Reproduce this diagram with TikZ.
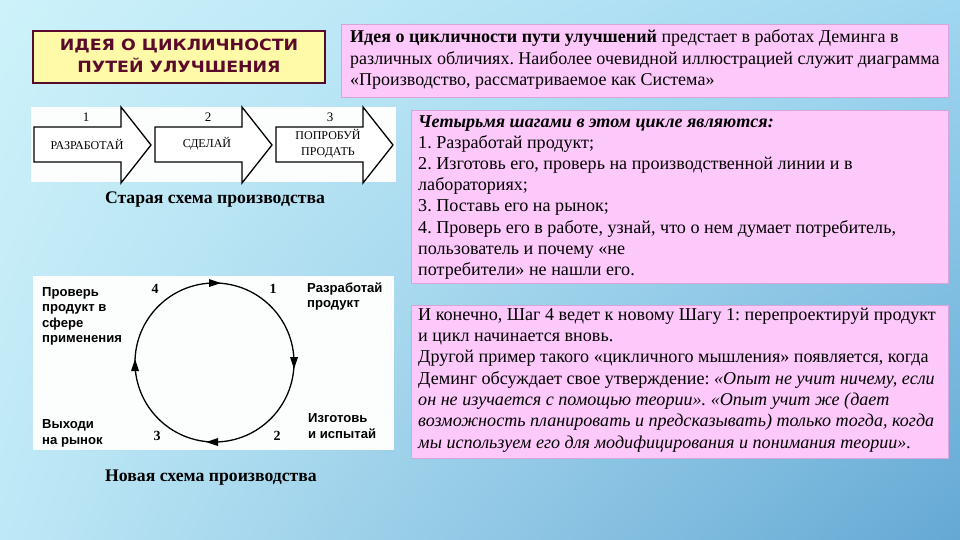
\documentclass[tikz,border=0pt]{standalone}
\usepackage{fontspec}
\usetikzlibrary{shadings}
\setmainfont{Liberation Serif}
\newfontfamily\sansb{Liberation Sans}
\newfontfamily\dejab[FakeStretch=1.12]{DejaVu Sans}
\definecolor{bgTL}{RGB}{205,242,250}
\definecolor{bgTR}{RGB}{160,215,240}
\definecolor{bgBL}{RGB}{190,232,246}
\definecolor{bgBR}{RGB}{100,168,212}
\definecolor{pinkfill}{RGB}{253,201,250}
\definecolor{pinkedge}{RGB}{215,165,215}
\definecolor{titlefill}{RGB}{255,250,168}
\definecolor{maroon}{RGB}{92,10,44}
\definecolor{panel}{RGB}{252,253,253}
\tikzset{
  pinkbox/.style={fill=pinkfill, draw=pinkedge, line width=0.8pt},
  panelbox/.style={fill=panel, draw=none},
  blockarrow/.style={fill=white, draw=black, line width=1.3pt, line join=miter},
  boxtext/.style={anchor=base west, align=left, inner sep=0pt, font=\fontsize{18.1}{21.4}\selectfont, text=black},
  numtext/.style={inner sep=0pt, font=\fontsize{13}{15}\selectfont},
  arrlabel/.style={inner sep=0pt, align=center, font=\fontsize{12}{16}\selectfont},
  cyclabel/.style={anchor=base west, align=left, inner sep=0pt, font=\sansb\bfseries\fontsize{13.1}{15.5}\selectfont},
  cycnum/.style={inner sep=0pt, font=\bfseries\fontsize{14}{16}\selectfont},
  caption/.style={inner sep=0pt, font=\bfseries\fontsize{17.7}{20}\selectfont},
  headtip/.style={fill=black, draw=none}
}
\begin{document}
\frenchspacing
\begin{tikzpicture}[x=1pt,y=-1pt]
\useasboundingbox (0,0) rectangle (960,540);
\shade[upper left=bgTL, upper right=bgTR, lower left=bgBL, lower right=bgBR] (0,0) rectangle (960,540);

% title
\draw[fill=titlefill, draw=maroon, line width=2.2pt] (33,31) rectangle (325,83);
\node (title) at (179,56) [align=center, inner sep=0pt, font=\dejab\bfseries\fontsize{15.5}{22}\selectfont, text=maroon] {ИДЕЯ О ЦИКЛИЧНОСТИ\\ПУТЕЙ УЛУЧШЕНИЯ};

% box 1 (anchor = baseline of last line)
\draw[pinkbox] (341,24) rectangle (948,97);
\node (t1) at (350,86) [boxtext, font=\fontsize{18}{21.5}\selectfont] {\textbf{Идея о цикличности пути улучшений} предстает в работах Деминга в\\различных обличиях. Наиболее очевидной иллюстрацией служит диаграмма\\«Производство, рассматриваемое как Система»};

% box 2
\draw[pinkbox] (411,110) rectangle (948,283);
\node (t2) at (418,275.4) [boxtext, font=\fontsize{18.1}{21.2}\selectfont] {\textbf{\textit{Четырьмя шагами в этом цикле являются:}}\\1. Разработай продукт;\\2. Изготовь его, проверь на производственной линии и в\\лабораториях;\\3. Поставь его на рынок;\\4. Проверь его в работе, узнай, что о нем думает потребитель,\\пользователь и почему «не\\потребители» не нашли его.};

% box 3
\draw[pinkbox] (411,305) rectangle (948,458);
\node (t3) at (418,448) [boxtext, font=\fontsize{18.1}{21.33}\selectfont] {И конечно, Шаг 4 ведет к новому Шагу 1: перепроектируй продукт\\и цикл начинается вновь.\\Другой пример такого «цикличного мышления» появляется, когда\\Деминг обсуждает свое утверждение: \textit{«Опыт не учит ничему, если}\\\textit{он не изучается с помощью теории». «Опыт учит же (дает}\\\textit{возможность планировать и предсказывать) только тогда, когда}\\\textit{мы используем его для модифицирования и понимания теории».}};

% old scheme
\fill[panelbox] (31,107) rectangle (396,182);
\foreach \L in {34,155,276}{
  \draw[blockarrow] (\L,127) -- ({\L+87},127) -- ({\L+87},107) -- ({\L+117},145) -- ({\L+87},183) -- ({\L+87},162) -- (\L,162) -- cycle;
}
\node (n1) at (86,117) [numtext] {1};
\node (n2) at (208,117) [numtext] {2};
\node (n3) at (330,117) [numtext] {3};
\node (l1) at (87,144) [arrlabel] {РАЗРАБОТАЙ};
\node (l2) at (207,144) [arrlabel] {СДЕЛАЙ};
\node (l3) at (328,144) [arrlabel] {ПОПРОБУЙ\\ПРОДАТЬ};
\node (old) at (215,200) [caption] {Старая схема производства};

% new scheme
\fill[panelbox] (33,276) rectangle (394,450);
\coordinate (c) at (214.5,362.5);
\draw[line width=1.3pt] (c) circle[radius=79.5pt];
\fill[headtip] (209,279) -- (221,283) -- (209,287) -- cycle;
\fill[headtip] (290,357) -- (294,369) -- (298,357) -- cycle;
\fill[headtip] (218,438) -- (206,442) -- (218,446) -- cycle;
\fill[headtip] (131,371) -- (135,359) -- (139,371) -- cycle;
\node (c4) at (155,289) [cycnum] {4};
\node (c1) at (273,289) [cycnum] {1};
\node (c3) at (157,436) [cycnum] {3};
\node (c2) at (277,436) [cycnum] {2};
\node (s1) at (307,307.5) [cyclabel] {Разработай\\продукт};
\node (s4) at (42,342.5) [cyclabel] {Проверь\\продукт в\\сфере\\применения};
\node (s3) at (42,444) [cyclabel] {Выходи\\на рынок};
\node (s2) at (308,438) [cyclabel] {Изготовь\\и испытай};
\node (new) at (211,478) [caption] {Новая схема производства};
\end{tikzpicture}
\end{document}
